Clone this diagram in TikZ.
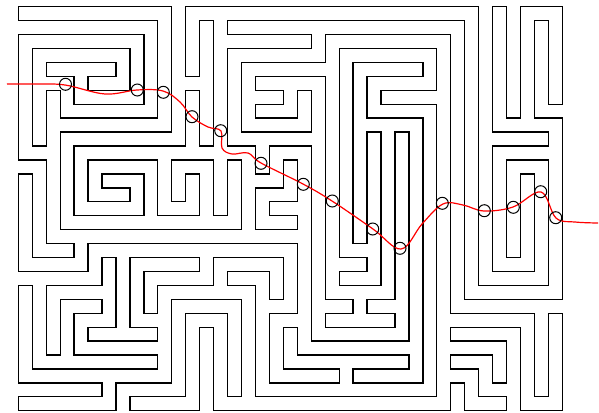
\documentclass[tikz,border=0pt]{standalone}
\begin{document}
\begin{tikzpicture}[x=27.9pt,y=-27.86pt]
\useasboundingbox (-25.3pt,13.7pt) rectangle (573.7pt,-398.3pt);
\fill[white] (-25.3pt,13.7pt) rectangle (573.7pt,-398.3pt);
\foreach \lw/\lc in {15.3/black,12.7/white}{
 \draw[line width=\lw pt,color=\lc,line cap=rect,line join=miter]
  (0,0)--(5,0)--(5,4)--(1,4) (1,3)--(1,8)--(10,8)
  (0,5)--(0,1)--(4,1)--(4,3)--(2,3)--(2,2) (1,2)--(3,2) (0,5)--(1,5)
  (0,6)--(0,9)--(2,9)--(2,8)
  (6,3)--(6,5)--(2,5)--(2,7)--(4,7)--(4,6)--(3,6) (6,5)--(8,5)
  (5,5)--(5,7)--(6,7)--(6,6)
  (7,0)--(7,7) (8,5)--(8,8)
  (8,6)--(9,6)--(9,5)--(10,5)--(10,12) (9,7)--(10,7)
  (6,2)--(6,0)--(16,0)
  (7,1)--(10,1) (11,1)--(15,1) (11,1)--(11,10)
  (8,2)--(11,2) (8,2)--(8,4)--(10,4)--(10,3) (8,3)--(9,3)
  (12,2)--(14,2) (12,2)--(12,8) (13,3)--(15,3) (15,1)--(15,14)
  (16,0)--(16,10)--(19,10)--(19,4)
  (12,4)--(14,4) (13,4)--(13,10) (14,4)--(14,13)
  (17,0)--(17,4)--(19,4) (18,0)--(18,4) (18,0)--(19,0)--(19,3)
  (17,5)--(19,5) (17,5)--(17,9)--(18,9)--(18,6)
  (11,9)--(12,9) (11,10)--(13,10) (12,10)--(12,11) (11,11)--(13,11)
  (10,12)--(14,12) (12,13)--(14,13)
  (9,11)--(10,11) (9,11)--(9,13)--(11,13)
  (7,9)--(9,9) (7,9)--(7,10) (9,9)--(9,10)
  (5,10)--(8,10)--(8,14) (7,11)--(7,14)--(15,14) (6,11)--(7,11) (6,11)--(6,14)--(4,14)
  (15,11)--(18,11)--(18,14)--(19,14)--(19,11)
  (15,12)--(17,12)--(17,13) (15,13)--(16,13)--(16,14)--(17,14)
  (4,9)--(6,9) (4,9)--(4,11)--(5,11)
  (3,9)--(3,11)--(2,11)--(2,12)--(5,12) (1,10)--(3,10) (1,10)--(1,12)
  (5,10)--(5,13) (0,10)--(0,13)--(5,13) (3,13)--(3,14)--(0,14);
}
\begin{scope}[shift={(-25.3pt,13.7pt)},x=1pt,y=-1pt]
 \draw[red,line width=1.2pt] plot[smooth,tension=0.6] coordinates {(7,84) (35,84) (65,85) (105,94) (137,90) (163,91) (180,102) (192,117) (208,127) (221,131) (222,148) (232,154) (248,153) (261,163) (303,184) (332,201) (373,229) (401,249) (422,224) (443,204) (463,205) (484,211) (513,207) (541,192) (556,218) (575,222) (598,223)};
 \foreach \p in {(65.5,84.3),(137.3,90),(163.3,92.3),(192,116.7),(220.7,130.7),(261,163.3),(303.3,184.3),(332.3,201),(372.7,229),(400,248.3),(442.3,203.3),(484.3,210.7),(513.3,207.3),(540.7,191.7),(555.7,217.7)}
  \draw[line width=1pt] \p circle[radius=6pt];
\end{scope}
\end{tikzpicture}
\end{document}
